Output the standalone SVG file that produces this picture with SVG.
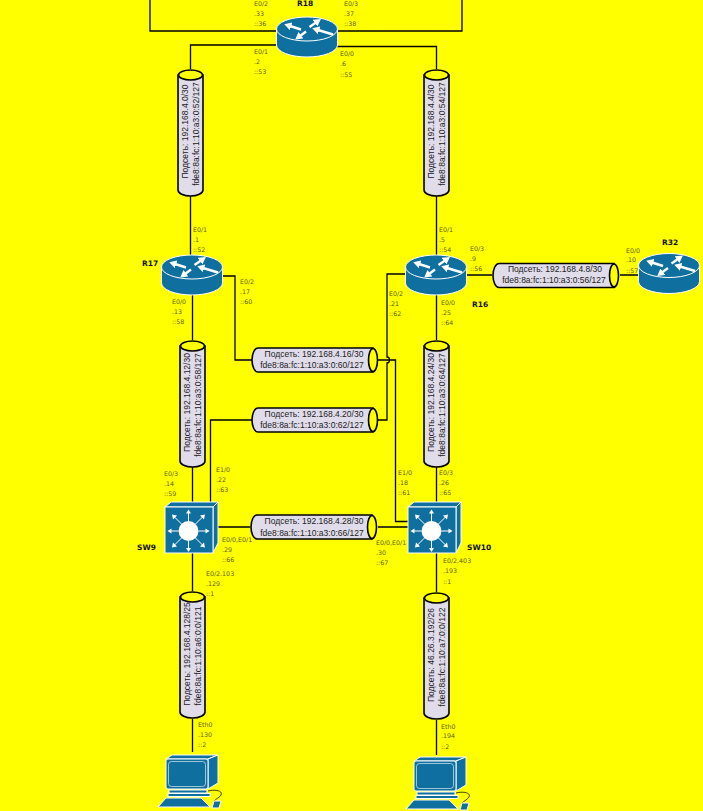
<svg xmlns="http://www.w3.org/2000/svg" xmlns:xlink="http://www.w3.org/1999/xlink" width="703" height="811" viewBox="0 0 703 811">
<style>
.c{fill:none;stroke:#000;stroke-width:1.3}
.cyl{fill:#e0dcea;stroke:#000;stroke-width:1.6}
.hole{fill:#ff0;stroke:#000;stroke-width:1.6}
.t{font-family:"Liberation Sans",Arial,sans-serif;font-size:8.5px;fill:#222}
.l{font-family:"DejaVu Sans",sans-serif;font-size:6.3px;fill:#5c5c00}
.n{font-family:"DejaVu Sans",sans-serif;font-size:7.5px;font-weight:bold;fill:#111}
.b{fill:#0f6f9f;stroke:#fff;stroke-width:1}
.w{fill:#fff}
.ws{stroke:#fff;stroke-width:1;fill:none}
.ra{stroke:#fff;stroke-width:2.4;fill:none;marker-end:url(#head)}
</style>
<defs>
<marker id="head" markerUnits="strokeWidth" markerWidth="3" markerHeight="3.4" refX="0.5" refY="1.7" orient="auto"><path d="M0 0L3 1.700L0 3.400Z" fill="#fff"/></marker>
<g id="router">
<path class="b" d="M-30.500 0V16A30.500 12 0 0 0 30.500 16V0Z"/>
<ellipse class="b" cx="0" cy="0" rx="30.500" ry="12"/>
<path class="ra" d="M-6 0.500L-17 -3"/>
<path class="ra" d="M2.500 -2L9 -6.500"/>
<path class="ra" d="M-1 2.500L-7 7"/>
<path class="ra" d="M26 5.500L11 1"/>
</g>
<g id="sw">
<path class="b" d="M0 0l6 -5h47l-5 5z"/>
<path class="b" d="M48 0l5 -5v41l-5 10z"/>
<rect class="b" x="0" y="0" width="48" height="46"/>
<circle class="w" cx="23.500" cy="24" r="10"/>
<g class="ws">
<path d="M23.500 14V5M23.500 34V43M13.500 24H5M33.500 24H42M16.500 17L9 9.500M30.500 17L38 9.500M16.500 31L9 38.500M30.500 31L38 38.500"/>
</g>
<g class="w">
<path d="M23.500 2.500l2.500 4h-5zM23.500 45l2.500 -4h-5zM2.500 24l4 -2.500v5zM44.500 24l-4 -2.500v5zM7 7.500l5 1l-4 4zM40 7.500l-5 1l4 4zM7 40.500l5 -1l-4 -4zM40 40.500l-5 -1l4 -4z"/>
</g>
</g>
<g id="pc">
<path class="b" d="M0 4l6 -4h46l-10 4z"/>
<path class="b" d="M42 4l10 -4v28l-10 6z"/>
<rect class="b" x="0" y="4" width="42" height="30" rx="2"/>
<rect x="2.500" y="6.500" width="37" height="25" rx="3" fill="#0f6f9f" stroke="#fff" stroke-width="0.6"/>
<rect class="b" x="3" y="35" width="38" height="3"/>
<rect class="b" x="2" y="38.500" width="42" height="3"/>
<path class="b" d="M-8 52l8 -9h35l9 9z"/>
<path d="M42 36c8 -2 15 0 13 4c-1 2 -5 4 -7 6" fill="none" stroke="#111" stroke-width="0.8"/>
<path class="b" d="M46 53l2 -7h7l-2 7z"/>
</g>
<g id="vc">
<path class="cyl" d="M-12.500 6V121A12.500 6 0 0 0 12.500 121V6Z"/>
<ellipse class="hole" cx="0" cy="6" rx="12" ry="5"/>
</g>
<g id="hc">
<path class="cyl" d="M121 0H6A6 12 0 0 0 6 24H121Z"/>
<ellipse class="hole" cx="121" cy="12" rx="4.500" ry="11.500"/>
</g>
</defs>
<rect width="703" height="811" fill="#ff0"/>
<g id="connectors">
<path class="c" d="M150 0V31H277M462 0V31H337"/>
<path class="c" d="M277 45H190.500V69M337 46.500H436.500V69"/>
<path class="c" d="M190.500 196V255M436.500 196V255"/>
<path class="c" d="M192.500 295V340M436.500 295V340"/>
<path class="c" d="M222 276H235V360H252"/>
<path class="c" d="M405 274H387V357A2.500 3 0 0 1 387 363V420H378"/>
<path class="c" d="M378 360H395.500V521.500H408"/>
<path class="c" d="M252 420H210.500V502"/>
<path class="c" d="M218 527H250M378 527H408"/>
<path class="c" d="M192.500 467V507M192.500 553V591M192.500 719V752"/>
<path class="c" d="M436.500 467V502M436.500 553V592M436.500 720V755"/>
<path class="c" d="M467 275H492M620 275H638"/>
</g>
<g id="R18"><use xlink:href="#router" href="#router" x="307" y="29"/><text class="n" x="297" y="5.500">R18</text>
<text class="l" x="254" y="6">E0/2</text><text class="l" x="254" y="16">.33</text><text class="l" x="254" y="26">::36</text>
<text class="l" x="344" y="6">E0/3</text><text class="l" x="344" y="16">.37</text><text class="l" x="344" y="26">::38</text>
<text class="l" x="254" y="54">E0/1</text><text class="l" x="254" y="64">.2</text><text class="l" x="254" y="74">::53</text>
<text class="l" x="340" y="56">E0/0</text><text class="l" x="340" y="66">.6</text><text class="l" x="340" y="77">::55</text></g>
<g id="R17"><use xlink:href="#router" href="#router" x="192" y="267"/><text class="n" x="142" y="266">R17</text>
<text class="l" x="193" y="232">E0/1</text><text class="l" x="193" y="242">.1</text><text class="l" x="193" y="252">::52</text>
<text class="l" x="240" y="284">E0/2</text><text class="l" x="240" y="294">.17</text><text class="l" x="240" y="304">::60</text>
<text class="l" x="172" y="304">E0/0</text><text class="l" x="172" y="314">.13</text><text class="l" x="172" y="324">::58</text></g>
<g id="R16"><use xlink:href="#router" href="#router" x="436" y="267"/><text class="n" x="472" y="307">R16</text>
<text class="l" x="439" y="232">E0/1</text><text class="l" x="439" y="242">.5</text><text class="l" x="439" y="252">::54</text>
<text class="l" x="470" y="251">E0/3</text><text class="l" x="470" y="261">.9</text><text class="l" x="470" y="271">::56</text>
<text class="l" x="389" y="296">E0/2</text><text class="l" x="389" y="306">.21</text><text class="l" x="389" y="316">::62</text>
<text class="l" x="441" y="305">E0/0</text><text class="l" x="441" y="315">.25</text><text class="l" x="441" y="325">::64</text></g>
<g id="R32"><use xlink:href="#router" href="#router" x="669" y="265.500"/><text class="n" x="662" y="245">R32</text>
<text class="l" x="626" y="253">E0/0</text><text class="l" x="626" y="262">.10</text><text class="l" x="626" y="273">::57</text></g>
<g id="SW9"><use xlink:href="#sw" href="#sw" x="165" y="507"/><text class="n" x="137" y="550">SW9</text>
<text class="l" x="164" y="476">E0/3</text><text class="l" x="164" y="486">.14</text><text class="l" x="164" y="496">::59</text>
<text class="l" x="216" y="472">E1/0</text><text class="l" x="216" y="482">.22</text><text class="l" x="216" y="492">::63</text>
<text class="l" x="222" y="542">E0/0,E0/1</text><text class="l" x="222" y="552">.29</text><text class="l" x="222" y="562">::66</text>
<text class="l" x="206" y="576">E0/2.103</text><text class="l" x="206" y="586">.129</text><text class="l" x="206" y="596">::1</text></g>
<g id="SW10"><use xlink:href="#sw" href="#sw" x="408" y="507"/><text class="n" x="467" y="550">SW10</text>
<text class="l" x="398" y="475">E1/0</text><text class="l" x="398" y="485">.18</text><text class="l" x="398" y="495">::61</text>
<text class="l" x="439" y="475">E0/3</text><text class="l" x="439" y="485">.26</text><text class="l" x="439" y="495">::65</text>
<text class="l" x="376" y="545">E0/0,E0/1</text><text class="l" x="376" y="555">.30</text><text class="l" x="376" y="565">::67</text>
<text class="l" x="443" y="563">E0/2.403</text><text class="l" x="443" y="573">.193</text><text class="l" x="443" y="584">::1</text></g>
<g id="PC1"><use xlink:href="#pc" href="#pc" x="166" y="755"/><text class="l" x="198" y="727">Eth0</text><text class="l" x="198" y="737">.130</text><text class="l" x="198" y="747">::2</text></g>
<g id="PC2"><use xlink:href="#pc" href="#pc" x="414" y="757"/><text class="l" x="441" y="729">Eth0</text><text class="l" x="441" y="738">.194</text><text class="l" x="441" y="749">::2</text></g>
<g id="net-4-0"><use xlink:href="#vc" href="#vc" x="190.500" y="69"/><g transform="translate(190.500 132.500) rotate(-90)" text-anchor="middle"><text class="t" x="1" y="-3">Подсеть: 192.168.4.0/30</text><text class="t" x="-1.500" y="8">fde8:8a:fc:1:10:a3:0:52/127</text></g></g>
<g id="net-4-4"><use xlink:href="#vc" href="#vc" x="436.500" y="69"/><g transform="translate(436.500 132.500) rotate(-90)" text-anchor="middle"><text class="t" x="1" y="-3">Подсеть: 192.168.4.4/30</text><text class="t" x="-1.500" y="8">fde8:8a:fc:1:10:a3:0:54/127</text></g></g>
<g id="net-4-12"><use xlink:href="#vc" href="#vc" x="192.500" y="340"/><g transform="translate(192.500 403.500) rotate(-90)" text-anchor="middle"><text class="t" x="1" y="-3">Подсеть: 192.168.4.12/30</text><text class="t" x="-1.500" y="8">fde8:8a:fc:1:10:a3:0:58/127</text></g></g>
<g id="net-4-24"><use xlink:href="#vc" href="#vc" x="436.500" y="340"/><g transform="translate(436.500 403.500) rotate(-90)" text-anchor="middle"><text class="t" x="1" y="-3">Подсеть: 192.168.4.24/30</text><text class="t" x="-1.500" y="8">fde8:8a:fc:1:10:a3:0:64/127</text></g></g>
<g id="net-4-128"><use xlink:href="#vc" href="#vc" x="192.500" y="591"/><g transform="translate(192.500 655) rotate(-90)" text-anchor="middle"><text class="t" x="1" y="-3">Подсеть: 192.168.4.128/25</text><text class="t" x="-1" y="8">fde8:8a:fc:1:10:a6:0:0/121</text></g></g>
<g id="net-46"><use xlink:href="#vc" href="#vc" x="436.500" y="592"/><g transform="translate(436.500 656) rotate(-90)" text-anchor="middle"><text class="t" x="1" y="-3">Подсеть: 46.26.3.192/26</text><text class="t" x="-1" y="8">fde8:8a:fc:1:10:a7:0:0/122</text></g></g>
<g id="net-4-8"><use xlink:href="#hc" href="#hc" x="493" y="263.500"/><g text-anchor="middle"><text class="t" x="555" y="272">Подсеть: 192.168.4.8/30</text><text class="t" x="554" y="283">fde8:8a:fc:1:10:a3:0:56/127</text></g></g>
<g id="net-4-16"><use xlink:href="#hc" href="#hc" x="252" y="348"/><g text-anchor="middle"><text class="t" x="314" y="357">Подсеть: 192.168.4.16/30</text><text class="t" x="312" y="368">fde8:8a:fc:1:10:a3:0:60/127</text></g></g>
<g id="net-4-20"><use xlink:href="#hc" href="#hc" x="252" y="408"/><g text-anchor="middle"><text class="t" x="314" y="417">Подсеть: 192.168.4.20/30</text><text class="t" x="312" y="428">fde8:8a:fc:1:10:a3:0:62/127</text></g></g>
<g id="net-4-28"><use xlink:href="#hc" href="#hc" x="251" y="515"/><g text-anchor="middle"><text class="t" x="314" y="524">Подсеть: 192.168.4.28/30</text><text class="t" x="312" y="536">fde8:8a:fc:1:10:a3:0:66/127</text></g></g>
</svg>
